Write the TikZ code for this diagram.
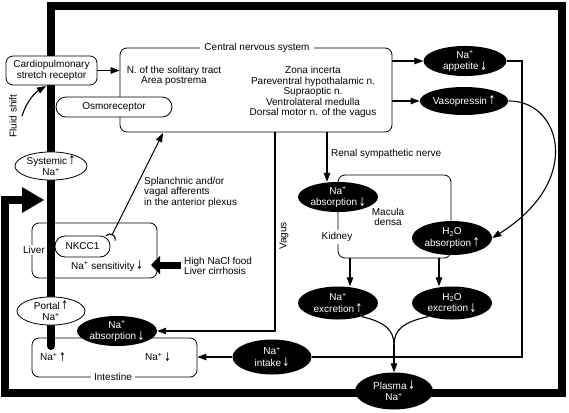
\documentclass[tikz,border=0pt]{standalone}
\usepackage{fontspec}
\setmainfont{Liberation Sans}
\newfontfamily\arrfont{DejaVu Sans}
\usetikzlibrary{arrows.meta,shapes.geometric}
\newcommand\UP{\hspace{1.5pt}\raisebox{-0.5pt}{\scalebox{0.8}[1.2]{\arrfont\fontsize{10}{10}\selectfont ↑}}}
\newcommand\DN{\hspace{1.5pt}\raisebox{-0.5pt}{\scalebox{0.8}[1.2]{\arrfont\fontsize{10}{10}\selectfont ↓}}}
\newcommand\Na{Na\textsuperscript{+}}
\begin{document}
\begin{tikzpicture}[x=1pt,y=-1pt,
  font=\fontsize{10}{10.5}\selectfont,
  rbox/.style={draw, line width=0.8pt, rounded corners=7pt, inner sep=0pt},
  pill/.style={draw, line width=0.8pt, rounded corners=10pt, fill=white, inner sep=0pt},
  blk/.style={ellipse, fill=black, text=white, inner sep=0pt, align=center, minimum width=80pt, minimum height=30pt, font=\fontsize{10}{11.5}\selectfont},
  wht/.style={ellipse, draw, line width=0.8pt, fill=white, inner sep=0pt, align=center, font=\fontsize{10}{11.5}\selectfont},
  conn/.style={line width=1.1pt, -{Triangle[length=9pt,width=6.5pt]}},
  plain/.style={line width=1.1pt},
  lbl/.style={fill=white, inner sep=2pt},
  txt/.style={align=center, inner sep=0pt}
]
\useasboundingbox (0,0) rectangle (569,412);
\fill[white] (0,0) rectangle (569,412);

% thick frame
\coordinate (f0) at (51,346);
\coordinate (f1) at (51,6);
\coordinate (f2) at (562,6);
\coordinate (f3) at (562,393);
\coordinate (f4) at (5,393);
\coordinate (f5) at (5,200);
\coordinate (f6) at (24,200);
\draw[line width=8pt, line cap=round] (f0) -- (f1) -- (f2) -- (f3) -- (f4) -- (f5) -- (f6);
\fill (22,187) -- (44,200) -- (22,213) -- cycle;

% CNS
\node[rbox, minimum width=272pt, minimum height=84pt] (cns) at (256,90) {};
\node[lbl, inner sep=4pt] (cnst) at (257,48) {Central nervous system};
\node[txt] (nts) at (174,76) {N. of the solitary tract\\Area postrema};
\node[txt] (hyp) at (313,92) {Zona incerta\\Pareventral hypothalamic n.\\Supraoptic n.\\Ventrolateral medulla\\Dorsal motor n. of the vagus};

\node[rbox, fill=white, minimum width=91pt, minimum height=29pt, align=center] (cardio) at (51.5,70.5) {Cardiopulmonary\\stretch receptor};
\node[pill, minimum width=116pt, minimum height=20pt] (osmo) at (114,107) {Osmoreceptor};

% left ellipses
\node[wht, minimum width=72pt, minimum height=27pt] (sys) at (51,166) {Systemic\UP\\\Na};
\node[wht, minimum width=68pt, minimum height=27pt] (portal) at (51,311) {Portal\UP\\\Na};

% liver
\node[rbox, minimum width=125pt, minimum height=55pt] (liver) at (94.5,250.5) {};
\node[lbl, inner sep=1.5pt] (liverl) at (34,250) {Liver};
\node[pill, minimum width=55pt, minimum height=21pt] (nkcc) at (82.5,246.5) {NKCC1};
\node[txt] (sens) at (107,266) {\Na\ sensitivity\DN};

% intestine
\node[rbox, minimum width=165pt, minimum height=39pt] (intest) at (114.5,357.5) {};
\node[lbl, inner sep=3pt] (intl) at (113,377) {Intestine};
\node[txt] (ina1) at (53,357) {\Na\UP};
\node[txt] (ina2) at (158,357) {\Na\DN};
\node[blk, minimum width=80pt, minimum height=28pt] (iabs) at (117,331) {\Na\\absorption\DN};
\node[blk, minimum width=79pt, minimum height=35pt] (intake) at (272,357) {\Na\\intake\DN};

% right ellipses
\node[blk, minimum width=83pt, minimum height=28pt] (app) at (465,61) {\Na\\appetite\DN};
\node[blk, minimum width=82pt, minimum height=28pt] (vaso) at (464,101) {Vasopressin\UP};

% kidney
\node[rbox, minimum width=113pt, minimum height=83pt] (kbox) at (394.5,216.5) {};
\node[blk, minimum width=80pt, minimum height=30pt] (kna) at (338,197) {\Na\\absorption\DN};
\node[blk, minimum width=80pt, minimum height=34pt] (h2oa) at (452,238) {H\textsubscript{2}O\\absorption\UP};
\node[txt] (macula) at (388,217) {Macula\\densa};
\node[lbl, inner sep=2pt] (kid) at (337,237) {Kidney};
\node[blk, minimum width=80pt, minimum height=33pt] (nexc) at (338,303) {\Na\\excretion\UP};
\node[blk, minimum width=80pt, minimum height=33pt] (hexc) at (452,303) {H\textsubscript{2}O\\excretion\DN};
\node[blk, minimum width=78pt, minimum height=37pt] (plasma) at (394,391) {Plasma\DN\\\Na};

% labels
\node[rotate=90] (fluid) at (13,116) {Fluid shift};
\node[rotate=90] (vagl) at (284,236) {Vagus};
\node[anchor=west, inner sep=0pt] (renl) at (331,154) {Renal sympathetic nerve};
\node[anchor=west, align=left, inner sep=0pt] (splt) at (144,192) {Splanchnic and/or\\vagal afferents\\in the anterior plexus};
\node[anchor=west, align=left, inner sep=0pt] (food) at (184,266) {High NaCl food\\Liver cirrhosis};

% connectors
\draw[conn] (cardio.east) -- (cardio.east -| cns.west);
\coordinate (fs0) at (22,116);
\coordinate (fs1) at (46,86);
\draw[conn] (fs0) .. controls (27,100) and (36,92) .. (fs1);
\draw[conn] (cns.east |- app) -- (app.west);
\draw[conn] (cns.east |- vaso) -- (vaso.west);
\coordinate (ren) at (327,132);
\draw[conn] (ren) -- (ren |- kna.north);
\coordinate (vag) at (275,132);
\draw[conn] (vag) |- (iabs.east);
\coordinate (sp0) at (112,235);
\coordinate (sp1) at (163,133);
\draw[conn] (sp0) -- (sp1);
\draw[line width=1.1pt] (105.7,235.8) arc[start angle=-138.4, end angle=11.6, radius=5.5];
\coordinate (appc) at (522,61);
\draw[plain] (app.east) -- (appc) |- (intake.east);
\draw[conn] (intake.west) -- (intake.west -| intest.east);
\draw[conn] (vaso.east) .. controls (560,100) and (585,180) .. (h2oa.east);
\coordinate (k1) at (350,258);
\coordinate (k2) at (439,258);
\draw[conn] (k1) -- (k1 |- nexc.north);
\draw[conn] (k2) -- (k2 |- hexc.north);
\coordinate (mg) at (394,345);
\draw[plain] (nexc.-30) .. controls (385,322) and (394,330) .. (mg);
\draw[plain] (hexc.-150) .. controls (403,322) and (394,330) .. (mg);
\draw[conn] (mg) -- (plasma.north);
\coordinate (nacl) at (181,265);
\coordinate (naclt) at (151,265);
\draw[line width=7pt, -{Triangle[length=9pt,width=18pt]}] (nacl) -- (naclt);
\end{tikzpicture}
\end{document}
